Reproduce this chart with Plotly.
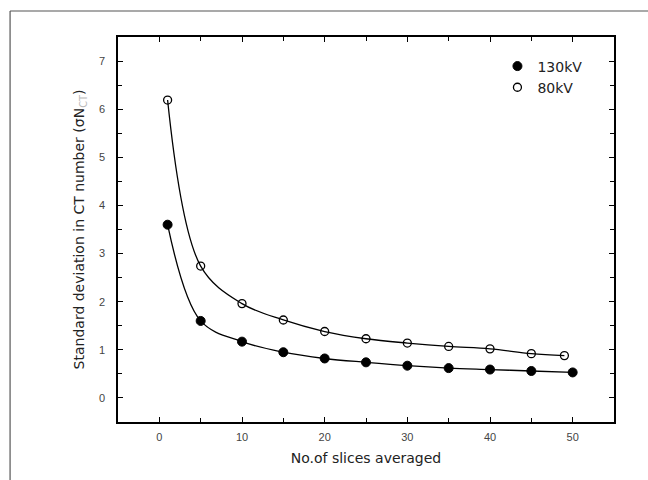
import plotly.graph_objects as go

slices_130 = [1, 5, 10, 15, 20, 25, 30, 35, 40, 45, 50]
sd_130 = [3.6, 1.6, 1.17, 0.95, 0.82, 0.74, 0.67, 0.62, 0.59, 0.56, 0.53]

slices_80 = [1, 5, 10, 15, 20, 25, 30, 35, 40, 45, 49]
sd_80 = [6.19, 2.74, 1.96, 1.62, 1.38, 1.23, 1.14, 1.07, 1.02, 0.92, 0.88]

x_ticks = [0, 10, 20, 30, 40, 50]
y_ticks = [0, 1, 2, 3, 4, 5, 6, 7]

tick_family = "Liberation Sans, Arial, sans-serif"
text_family = "DejaVu Sans, Verdana, sans-serif"

fig = go.Figure()

# fitted curves (smooth through the points)
for xs, ys in [(slices_130, sd_130), (slices_80, sd_80)]:
    fig.add_trace(go.Scatter(x=xs, y=ys, mode="lines", line=dict(color="black", width=1.3, shape="spline", smoothing=1.0),
                             showlegend=False, hoverinfo="skip"))

fig.add_trace(go.Scatter(x=slices_130, y=sd_130, mode="markers", name="130kV",
                         marker=dict(symbol="circle", size=9, color="black", line=dict(color="black", width=1))))
fig.add_trace(go.Scatter(x=slices_80, y=sd_80, mode="markers", name="80kV",
                         marker=dict(symbol="circle-open", size=8, color="black", line=dict(color="black", width=1.3))))

axis_common = dict(
    showline=True, linecolor="black", linewidth=1.5, mirror="ticks",
    ticks="inside", ticklen=5, tickwidth=1.3, tickcolor="black",
    showgrid=False, zeroline=False,
    tickfont=dict(family=tick_family, size=11, color="#444444"),
)

fig.update_xaxes(range=[-5, 55], tickvals=x_ticks, ticktext=[str(v) for v in x_ticks],
                 ticklabelstandoff=4,
                 minor=dict(ticks="inside", ticklen=4, tickwidth=1.2, tickcolor="black", dtick=5, tick0=0, showgrid=False),
                 title=dict(text="No.of slices averaged", font=dict(family=text_family, size=14, color="#222222"), standoff=11),
                 **axis_common)
fig.update_yaxes(range=[-0.5, 7.5], tickvals=y_ticks, ticktext=[str(v) for v in y_ticks],
                 ticklabelstandoff=9,
                 minor=dict(ticks="inside", ticklen=4, tickwidth=1.2, tickcolor="black", dtick=0.5, tick0=0, showgrid=False),
                 title=dict(text="Standard deviation in CT number (σN<sub><span style='color:#bbbbbb'>CT</span></sub>)",
                            font=dict(family=text_family, size=14, color="#222222"), standoff=11),
                 **axis_common)

fig.update_layout(
    width=648, height=480,
    margin=dict(l=118, r=34, t=37, b=58),
    paper_bgcolor="white", plot_bgcolor="white",
    legend=dict(x=0.765, y=0.965, xanchor="left", yanchor="top", bgcolor="rgba(0,0,0,0)",
                font=dict(family=text_family, size=14, color="#222222"), tracegroupgap=0, itemwidth=30),
    shapes=[
        dict(type="line", xref="paper", yref="paper", x0=-0.2176, x1=1.2, y0=1.0675, y1=1.0675,
             line=dict(color="#555555", width=1.2)),
        dict(type="line", xref="paper", yref="paper", x0=-0.2176, x1=-0.2176, y0=1.0675, y1=-0.2,
             line=dict(color="#555555", width=1.2)),
    ],
)

fig.write_html("out.html", config={"displayModeBar": False},
               post_script="document.body.style.margin='0';document.body.style.padding='0';")
